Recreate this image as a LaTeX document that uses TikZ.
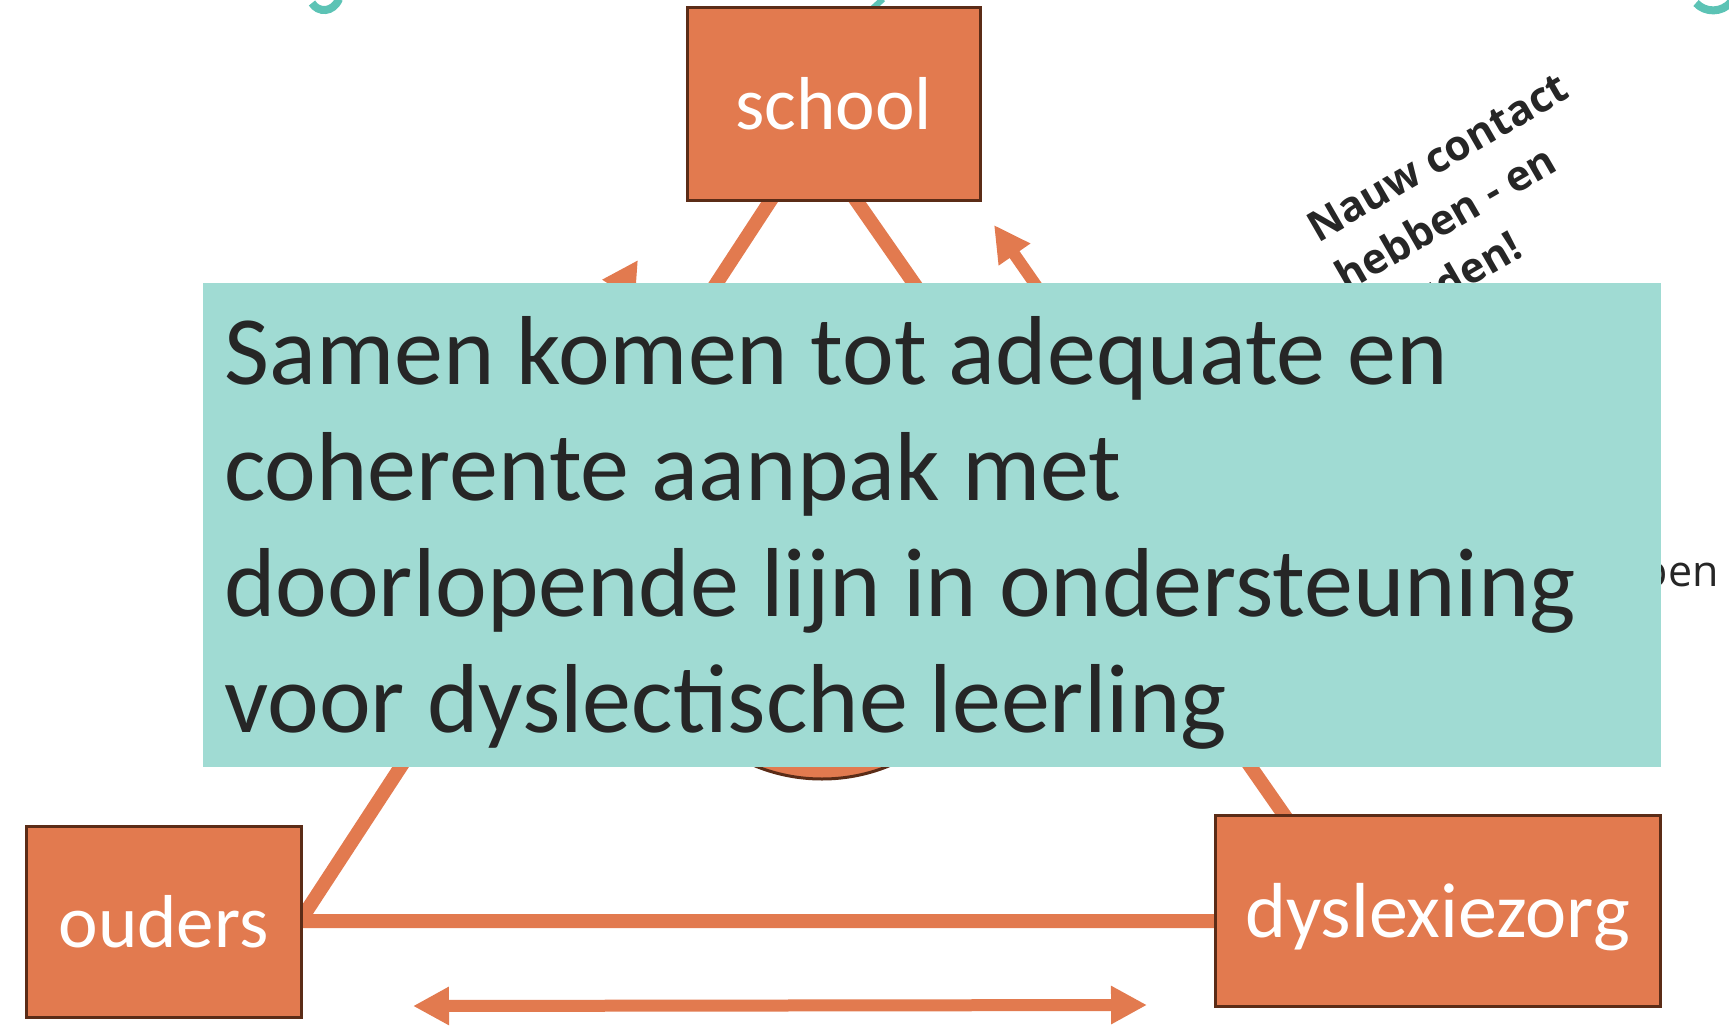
\documentclass[tikz,border=0pt]{standalone}
\usepackage{fontspec}
\setmainfont{Carlito}
\newfontfamily\notefont{Open Sans}
\usepackage{tikz}
\usetikzlibrary{arrows.meta,positioning}
\usepackage{xcolor}
\definecolor{partorange}{HTML}{E27A4F}
\definecolor{partborder}{HTML}{5B2C17}
\definecolor{kernteal}{HTML}{A0DBD3}
\definecolor{titlecyan}{HTML}{5CC3B5}
\definecolor{notegray}{HTML}{262626}

\begin{document}
\begin{tikzpicture}[x=1pt, y=-1pt,
    partbox/.style={draw=partborder, line width=3pt, fill=partorange, text=white,
        font=\fontsize{75}{80}\selectfont, inner sep=0pt},
    link/.style={draw=partorange, line width=14pt, line join=miter},
    duo/.style={draw=partorange, line width=12pt, >={Triangle[length=36pt,width=36pt]}, <->}]
    \useasboundingbox (0,0) rectangle (1729,1030);
    \clip (0,0) rectangle (1729,1030);

    % Title descenders peeking in at the top
    \draw[titlecyan, line width=8pt] (312,3) .. controls (318,13) and (333,13) .. (339,-1);
    \draw[titlecyan, line width=6pt] (872,9) -- (883,-1);
    \draw[titlecyan, line width=8pt] (1696,3) .. controls (1705,13) and (1722,13) .. (1731,2);

    % Triangle between the three parties
    \coordinate (apex) at (812,137);
    \coordinate (cornerL) at (300,921);
    \coordinate (cornerR) at (1358,921);
    \draw[link] (apex) -- (cornerL) -- (cornerR) -- cycle;

    % Arrows along the sides
    \coordinate (tipL) at (638,260);
    \coordinate (endL) at (366,680);
    \coordinate (tipR) at (994,225);
    \coordinate (endR) at (1279,635);
    \coordinate (tipA) at (413,1006);
    \coordinate (tipB) at (1147,1005);
    \draw[duo] (endL) -- (tipL);
    \draw[duo] (endR) -- (tipR);
    \draw[duo] (tipA) -- (tipB);

    % Centre circle
    \node[circle, draw=partborder, line width=3pt, fill=partorange, minimum size=354pt] (hub) at (822,602) {};

    % Notes
    \node[rotate=30, anchor=north west, inner sep=0pt, align=left, text=notegray,
        font=\notefont\bfseries\fontsize{42}{57}\selectfont] (contact) at (1303,217)
        {Nauw contact\\hebben - en\\houden!};
    \node[anchor=base east, inner sep=0pt, text=notegray,
        font=\notefont\fontsize{43}{50}\selectfont] (side) at (1719,586) {pen};

    % Central statement
    \node[fill=kernteal, minimum width=1458pt, minimum height=484pt, inner sep=0pt] (kern) at (932,525) {};
    \node[anchor=north west, inner sep=0pt, align=left, text=notegray,
        font=\fontsize{98}{116}\selectfont] (doel) at (224,316)
        {Samen komen tot adequate en\\coherente aanpak met\\doorlopende lijn in ondersteuning\\voor dyslectische leerling};

    % Parties
    \node[partbox, minimum width=293pt, minimum height=192pt] (school) at (833.5,104) {school};
    \node[partbox, minimum width=275pt, minimum height=191pt] (ouders) at (163.5,921.5) {ouders};
    \node[partbox, minimum width=445pt, minimum height=191pt,
        font=\fontsize{78}{80}\selectfont, text depth=0pt] (zorg) at (1437.5,910.5) {dyslexiezorg};
\end{tikzpicture}
\end{document}
